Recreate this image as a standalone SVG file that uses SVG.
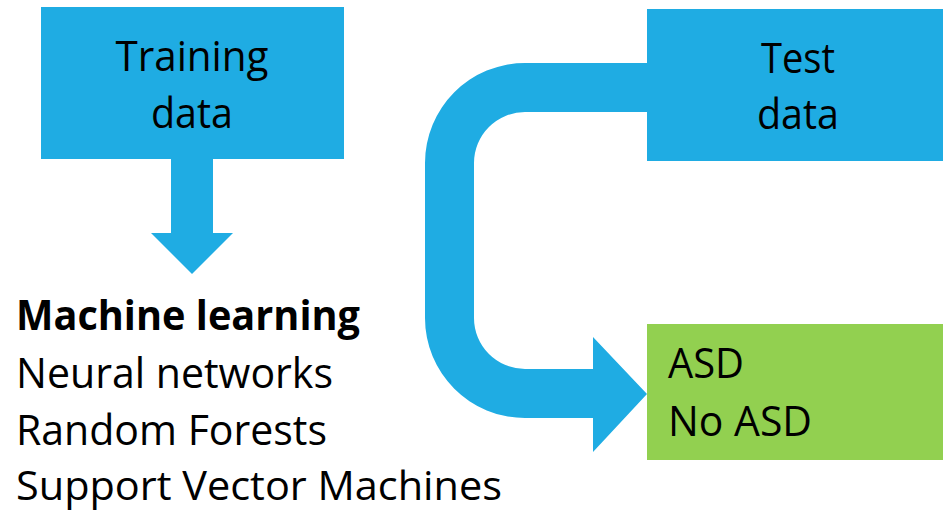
<svg xmlns="http://www.w3.org/2000/svg" width="943" height="511" viewBox="0 0 943 511">
<style>
.blue{fill:#1FACE3}
.green{fill:#92D050}
.t{font-family:"Open Sans","Liberation Sans",sans-serif;font-size:42px;fill:#000}
.c{text-anchor:middle}
.b{font-weight:bold}
</style>
<rect width="943" height="511" fill="#fff"/>
<g id="connectors">
<path class="blue" d="M171,159 L213,159 L213,233 L233,233 L192,274 L151,233 L171,233 Z"/>
<path class="blue" d="M647,63 L525,63 A100,100 0 0 0 425,163 L425,318 A100,100 0 0 0 525,418 L593,418 L593,452 L647,394 L593,337 L593,369 L525,369 A51,51 0 0 1 474,318 L474,163 A51,51 0 0 1 525,112 L647,112 Z"/>
</g>
<g id="training">
<rect class="blue" x="41" y="7" width="303" height="152"/>
<text class="t c" x="192" y="71" textLength="153" lengthAdjust="spacingAndGlyphs">Training</text>
<text class="t c" x="192" y="128" textLength="82" lengthAdjust="spacingAndGlyphs">data</text>
</g>
<g id="test">
<rect class="blue" x="647" y="9" width="296" height="152"/>
<text class="t c" x="798" y="73" textLength="74" lengthAdjust="spacingAndGlyphs">Test</text>
<text class="t c" x="798" y="129" textLength="82" lengthAdjust="spacingAndGlyphs">data</text>
</g>
<g id="result">
<rect class="green" x="647" y="324" width="296" height="136"/>
<text class="t" x="668" y="378" textLength="76" lengthAdjust="spacingAndGlyphs">ASD</text>
<text class="t" x="668" y="436" textLength="144" lengthAdjust="spacingAndGlyphs">No ASD</text>
</g>
<g id="ml">
<text class="t b" x="16" y="330" textLength="344" lengthAdjust="spacingAndGlyphs">Machine learning</text>
<text class="t" x="16" y="388" textLength="317" lengthAdjust="spacingAndGlyphs">Neural networks</text>
<text class="t" x="16" y="445" textLength="311" lengthAdjust="spacingAndGlyphs">Random Forests</text>
<text class="t" x="16" y="500" style="font-size:40px" textLength="486" lengthAdjust="spacingAndGlyphs">Support Vector Machines</text>
</g>
</svg>
